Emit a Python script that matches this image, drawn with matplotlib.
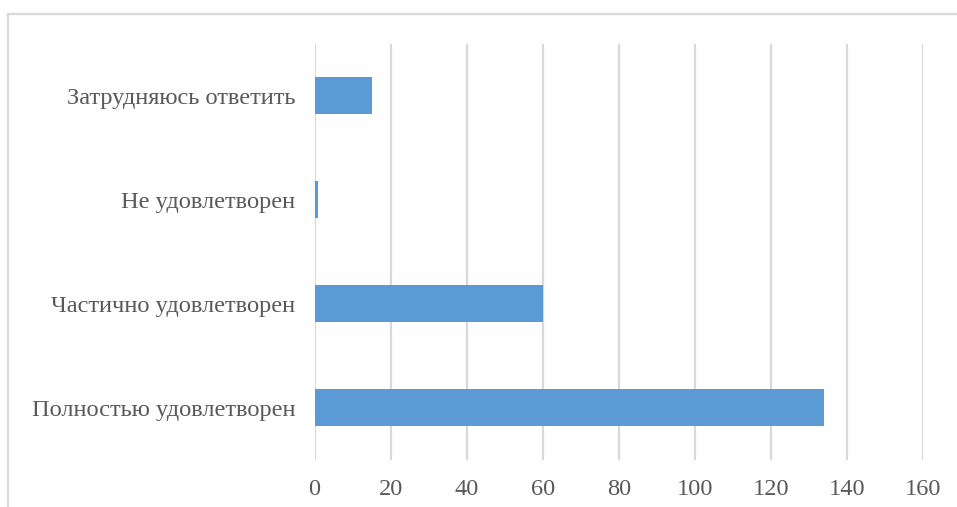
import matplotlib
matplotlib.use("Agg")
import matplotlib.pyplot as plt
from matplotlib.patches import Rectangle

# ── Data ────────────────────────────────────────────────────────────────
categories = [
    "Полностью удовлетворен",
    "Частично удовлетворен",
    "Не удовлетворен",
    "Затрудняюсь ответить",
]
values = [134, 60, 1, 15]
x_ticks = [0, 20, 40, 60, 80, 100, 120, 140, 160]

BAR_COLOR = "#5B9BD5"
GRID_COLOR = "#D9D9D9"
TEXT_COLOR = "#595959"

plt.rcParams["font.family"] = ["Liberation Serif", "DejaVu Serif"]

fig = plt.figure(figsize=(9.57, 5.07), dpi=100)
fig.patch.set_facecolor("white")

# chart frame (Excel-style outer border, runs off the right and bottom)
fig.patches.append(Rectangle(
    (8 / 957, -0.05), 1.0, 1.05 - 14 / 507,
    transform=fig.transFigure, fill=False,
    edgecolor=GRID_COLOR, linewidth=1.6, zorder=0,
))

ax = fig.add_axes([314.5 / 957, 1 - 460 / 507, (923 - 314.5) / 957, (460 - 43.5) / 507])
ypos = range(len(categories))
ax.barh(ypos, values, height=0.355, color=BAR_COLOR, zorder=3)

ax.set_xlim(0, 160)
ax.set_ylim(-0.5, len(categories) - 0.5)
ax.set_xticks(x_ticks)
ax.set_yticks(list(ypos))
ax.set_yticklabels(categories)

ax.grid(axis="x", color=GRID_COLOR, linewidth=1.6, zorder=0)
ax.set_axisbelow(True)
for side in ("top", "right", "bottom", "left"):
    ax.spines[side].set_visible(False)

ax.tick_params(axis="both", length=0, labelsize=17.6, colors=TEXT_COLOR)
ax.tick_params(axis="x", pad=14)
ax.tick_params(axis="y", pad=14)

fig.savefig("out.png", dpi=100, facecolor="white")
